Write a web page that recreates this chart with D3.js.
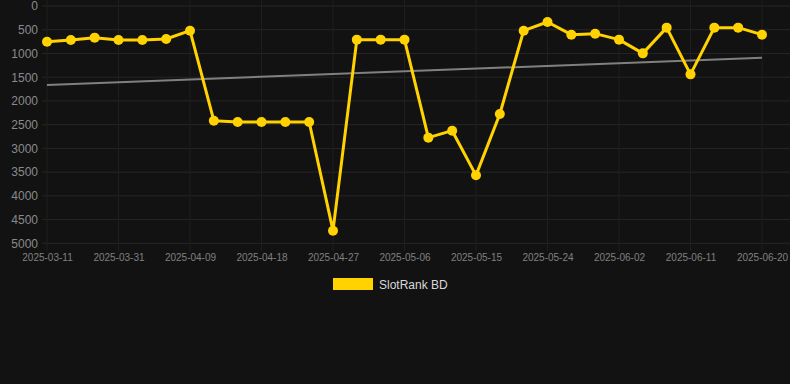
<!DOCTYPE html>
<html><head><meta charset="utf-8">
<script src="https://cdn.jsdelivr.net/npm/d3@7"></script>
<style>
html,body{margin:0;padding:0;background:#121212;}
svg{display:block;}
</style></head>
<body>
<svg id="chart" width="790" height="384"></svg>
<script>
const dates = ["2025-03-11","2025-03-25","2025-03-28","2025-03-31","2025-04-03","2025-04-06","2025-04-09","2025-04-12","2025-04-15","2025-04-18","2025-04-21","2025-04-24","2025-04-27","2025-04-30","2025-05-03","2025-05-06","2025-05-09","2025-05-12","2025-05-15","2025-05-18","2025-05-21","2025-05-24","2025-05-27","2025-05-30","2025-06-02","2025-06-05","2025-06-08","2025-06-11","2025-06-14","2025-06-17","2025-06-20"];
const rankValues = [752,716,667,716,716,695,520,2416,2444,2444,2444,2444,4734,709,709,709,2774,2627,3568,2276,520,337,604,583,709,998,456,1440,456,456,604];
const trendValues = [1665,1089];
const yTicks = [0,500,1000,1500,2000,2500,3000,3500,4000,4500,5000];
const xTickLabels = ["2025-03-11","2025-03-31","2025-04-09","2025-04-18","2025-04-27","2025-05-06","2025-05-15","2025-05-24","2025-06-02","2025-06-11","2025-06-20"];
const seriesName = "SlotRank BD";

const svg = d3.select("#chart");
const W = 790;
const x = d3.scalePoint().domain(dates).range([47, 762]);
const y = d3.scaleLinear().domain([0, 5000]).range([6, 243.3]);

// horizontal grid
svg.append("g").selectAll("line").data(yTicks).join("line")
  .attr("x1", 42).attr("x2", W)
  .attr("y1", d => y(d)).attr("y2", d => y(d))
  .attr("stroke", "#262626").attr("stroke-width", 1);
// vertical grid
svg.append("g").selectAll("line").data(xTickLabels).join("line")
  .attr("x1", d => x(d)).attr("x2", d => x(d))
  .attr("y1", 0).attr("y2", 251)
  .attr("stroke", "#1f1f1f").attr("stroke-width", 1);

// y axis labels
const yAxis = d3.axisLeft(y).tickValues(yTicks).tickSize(0).tickPadding(0).tickFormat(d => d);
const ya = svg.append("g").attr("transform", "translate(38,0)").call(yAxis);
ya.select(".domain").remove();
ya.selectAll("text").attr("fill", "#8a8a8a").style("font-family", "Arial, 'Liberation Sans', sans-serif").style("font-size", "12px");

// x axis labels
const xAxis = d3.axisBottom(x).tickValues(xTickLabels).tickSize(0).tickPadding(0);
const xa = svg.append("g").attr("transform", "translate(0,254)").call(xAxis);
xa.select(".domain").remove();
xa.selectAll("text").attr("fill", "#808080").style("font-family", "Arial, 'Liberation Sans', sans-serif").style("font-size", "10px");

// trend line
svg.append("line")
  .attr("x1", x(dates[0])).attr("x2", x(dates[dates.length-1]))
  .attr("y1", y(trendValues[0])).attr("y2", y(trendValues[1]))
  .attr("stroke", "#808080").attr("stroke-width", 2);

// series line
const data = dates.map((d,i) => ({d, v: rankValues[i]}));
svg.append("path").datum(data)
  .attr("fill", "none").attr("stroke", "#FFD200").attr("stroke-width", 3)
  .attr("stroke-linejoin", "round")
  .attr("d", d3.line().x(p => x(p.d)).y(p => y(p.v)));
svg.append("g").selectAll("circle").data(data).join("circle")
  .attr("cx", p => x(p.d)).attr("cy", p => y(p.v)).attr("r", 5)
  .attr("fill", "#FFD200");

// legend
const lg = svg.append("g");
lg.append("rect").attr("x", 333).attr("y", 278).attr("width", 40).attr("height", 12).attr("fill", "#FFD200");
lg.append("text").attr("x", 379).attr("y", 288.5).text(seriesName)
  .attr("fill", "#d8d8d8").style("font-family", "Arial, 'Liberation Sans', sans-serif").style("font-size", "12px");
</script>
</body></html>
